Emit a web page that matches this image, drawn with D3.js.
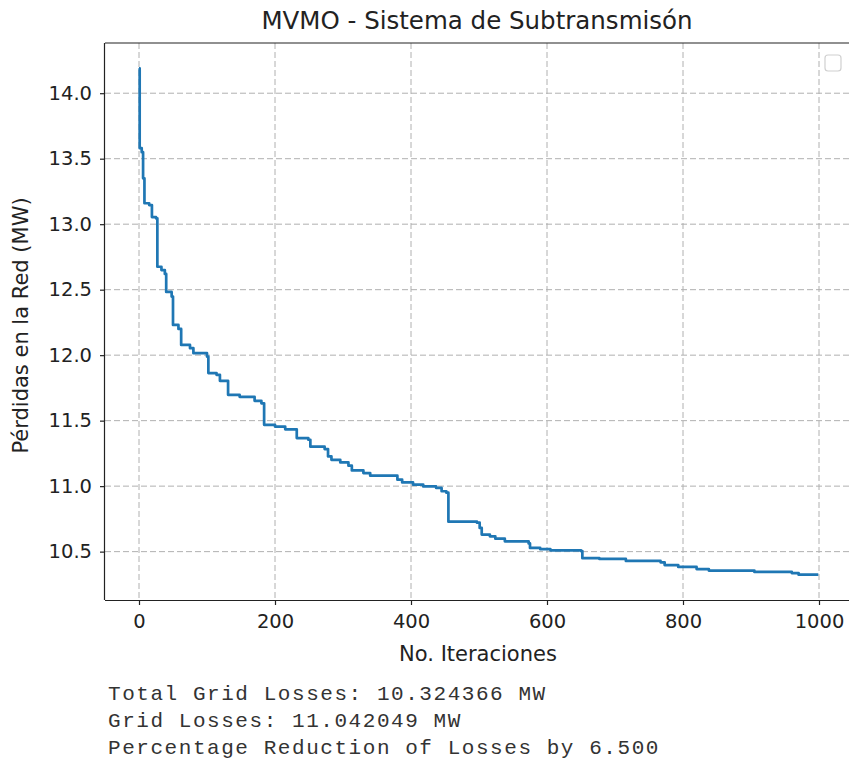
<!DOCTYPE html>
<html>
<head>
<meta charset="utf-8">
<script src="https://cdn.jsdelivr.net/npm/d3@7"></script>
<style>
  body { margin: 0; background: #fff; }
  svg { display: block; }
  .axis text { font-family: "DejaVu Sans", sans-serif; font-size: 19.5px; fill: #222; }
  .axis path, .axis line { stroke: #222; stroke-width: 1.2; }
  .grid line { stroke: #b0b0b0; stroke-width: 1; stroke-dasharray: 6,3; }
  .label { font-family: "DejaVu Sans", sans-serif; font-size: 21px; fill: #222; }
  .title { font-family: "DejaVu Sans", sans-serif; font-size: 24.5px; fill: #222; }
  .out { font-family: "Liberation Mono", "Courier New", monospace; font-size: 21px; letter-spacing: 1.55px; fill: #333; }
</style>
</head>
<body>
<div id="chart"></div>
<script>
// iteration where the best value changes, and the value from there on
var iterations = [0, 1, 4, 6, 8, 15, 19, 25, 27, 33, 38, 40, 48, 50, 58, 62, 75, 80, 100, 102,
  114, 119, 131, 148, 170, 180, 184, 200, 215, 232, 249, 252, 273, 278, 283, 296, 308, 313, 330, 340,
  380, 387, 403, 418, 437, 445, 452, 455, 497, 501, 504, 516, 524, 538, 573, 575, 590, 605, 650, 652,
  677, 716, 767, 773, 793, 820, 838, 905, 960, 970, 999];
var losses = [14.19, 13.58, 13.55, 13.35, 13.16, 13.146, 13.054, 13.045, 12.675, 12.65, 12.62, 12.483, 12.447, 12.231, 12.20, 12.078, 12.053, 12.015, 11.989, 11.863,
  11.85, 11.804, 11.697, 11.682, 11.651, 11.632, 11.468, 11.455, 11.434, 11.367, 11.354, 11.301, 11.283, 11.227, 11.201, 11.181, 11.156, 11.12, 11.10, 11.08,
  11.049, 11.028, 11.011, 10.998, 10.986, 10.961, 10.95, 10.729, 10.721, 10.681, 10.63, 10.617, 10.599, 10.579, 10.563, 10.528, 10.519, 10.51, 10.504, 10.45,
  10.444, 10.429, 10.418, 10.397, 10.383, 10.367, 10.355, 10.345, 10.336, 10.324, 10.324];

var xTicks = [0, 200, 400, 600, 800, 1000];
var yTicks = [10.5, 11.0, 11.5, 12.0, 12.5, 13.0, 13.5, 14.0];

var titleText = 'MVMO - Sistema de Subtransmisón';
var xLabel = 'No. Iteraciones';
var yLabel = 'Pérdidas en la Red (MW)';
var outputLines = [
  'Total Grid Losses: 10.324366 MW',
  'Grid Losses: 11.042049 MW',
  'Percentage Reduction of Losses by 6.500'
];

var W = 849, H = 760;
var margin = {top: 43, left: 105, right: -4, bottom: 160};
var w = W - margin.left - margin.right,
    h = H - margin.top - margin.bottom;

var data = iterations.map(function(d, i) { return {it: d, v: losses[i]}; });

var svg = d3.select('#chart').append('svg')
    .attr('width', W)
    .attr('height', H);

var g = svg.append('g')
    .attr('transform', translation(margin.left, margin.top));

// matplotlib style 5% padding
var xScale = d3.scaleLinear().domain([-50, 1050]).range([0, w]);
var yMin = d3.min(losses), yMax = d3.max(losses), pad = (yMax - yMin) * 0.05;
var yScale = d3.scaleLinear().domain([yMin - pad, yMax + pad]).range([h, 0]);

// grid
g.append('g').attr('class', 'grid')
  .selectAll('line.v').data(xTicks).enter().append('line')
    .attr('x1', function(d) { return xScale(d); })
    .attr('x2', function(d) { return xScale(d); })
    .attr('y1', 0).attr('y2', h);
g.append('g').attr('class', 'grid')
  .selectAll('line.h').data(yTicks).enter().append('line')
    .attr('x1', 0).attr('x2', w)
    .attr('y1', function(d) { return yScale(d); })
    .attr('y2', function(d) { return yScale(d); });

// curve
var line = d3.line()
    .x(function(d) { return xScale(d.it); })
    .y(function(d) { return yScale(d.v); })
    .curve(d3.curveStepAfter);

g.append('path')
    .datum(data)
    .attr('fill', 'none')
    .attr('stroke', '#1f77b4')
    .attr('stroke-width', 2.7)
    .attr('stroke-linejoin', 'round')
    .attr('d', line);

// axes
g.append('g').attr('class', 'axis')
    .attr('transform', translation(0, h))
    .call(d3.axisBottom(xScale).tickValues(xTicks).tickFormat(d3.format('d')).tickSize(5).tickPadding(9).tickSizeOuter(0))
    .call(function(s) { s.select('.domain').attr('d', 'M0,0.5H' + w); });

g.append('g').attr('class', 'axis')
    .call(d3.axisLeft(yScale).tickValues(yTicks).tickFormat(d3.format('.1f')).tickSize(5).tickPadding(8).tickSizeOuter(0))
    .call(function(s) { s.select('.domain').attr('d', 'M-0.5,0V' + h); });

// top and right spines
g.append('line').attr('x1', 0).attr('x2', w).attr('y1', 0).attr('y2', 0)
    .attr('stroke', '#222').attr('stroke-width', 1.2);
g.append('line').attr('x1', w).attr('x2', w).attr('y1', 0).attr('y2', h)
    .attr('stroke', '#222').attr('stroke-width', 1.2);

// empty legend box
g.append('rect')
    .attr('x', w - 28).attr('y', 12)
    .attr('width', 16).attr('height', 16)
    .attr('rx', 3)
    .attr('fill', '#fff')
    .attr('stroke', '#d0d0d0')
    .attr('stroke-width', 1.2);

// labels
svg.append('text').attr('class', 'title')
    .attr('x', margin.left + w / 2 - 2).attr('y', 29)
    .attr('text-anchor', 'middle')
    .text(titleText);

svg.append('text').attr('class', 'label')
    .attr('x', margin.left + w / 2 - 1).attr('y', 661)
    .attr('text-anchor', 'middle')
    .text(xLabel);

svg.append('text').attr('class', 'label')
    .attr('transform', translation(28, margin.top + h / 2 + 4) + 'rotate(-90)')
    .attr('text-anchor', 'middle')
    .text(yLabel);

svg.append('g').selectAll('text')
    .data(outputLines).enter().append('text')
    .attr('class', 'out')
    .attr('x', 108)
    .attr('y', function(d, i) { return 700 + i * 27; })
    .text(function(d) { return d; });

function translation(x, y) {
    return 'translate(' + x + ',' + y + ')';
}
</script>
</body>
</html>
